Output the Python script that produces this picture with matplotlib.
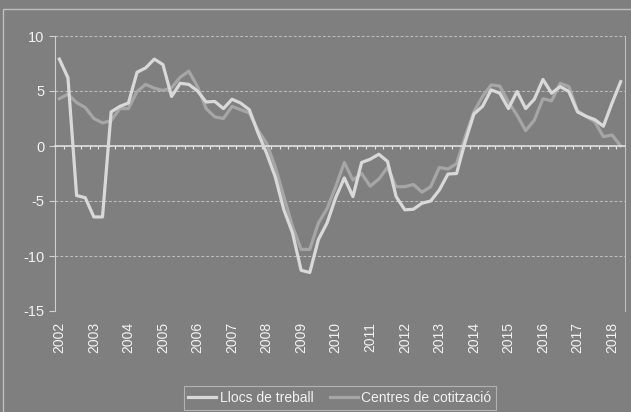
import numpy as np
import matplotlib
matplotlib.use("Agg")
import matplotlib.pyplot as plt
from matplotlib.patches import Rectangle

# quarterly series, 2002Q1 .. 2018Q2
years = [str(y) for y in range(2002, 2019)]
llocs = [7.9, 6.2, -4.5, -4.7, -6.45, -6.45, 3.1, 3.6, 3.9, 6.7,
         7.1, 7.9, 7.4, 4.5, 5.7, 5.6, 5.0, 4.0, 4.05, 3.4,
         4.25, 3.9, 3.3, 1.2, -0.65, -2.8, -5.8, -7.9, -11.3, -11.5,
         -8.5, -7.0, -4.7, -2.9, -4.6, -1.5, -1.2, -0.75, -1.4, -4.6,
         -5.8, -5.75, -5.2, -5.0, -4.0, -2.55, -2.5, 0.4, 2.9, 3.6,
         5.1, 4.8, 3.4, 4.95, 3.4, 4.25, 6.05, 4.8, 5.4, 4.95,
         3.1, 2.7, 2.4, 1.8, 3.9, 5.85]
centres = [4.3, 4.7, 3.95, 3.5, 2.5, 2.1, 2.3, 3.4, 3.4, 4.95,
           5.6, 5.25, 5.05, 5.3, 6.25, 6.8, 5.4, 3.4, 2.65, 2.5,
           3.6, 3.3, 3.0, 1.45, 0.25, -1.9, -4.6, -7.3, -9.4, -9.4,
           -7.0, -5.7, -3.7, -1.5, -3.1, -2.5, -3.65, -3.0, -1.95, -3.7,
           -3.7, -3.5, -4.2, -3.7, -1.95, -2.1, -1.6, 0.85, 3.1, 4.5,
           5.55, 5.45, 4.0, 2.8, 1.4, 2.35, 4.3, 4.1, 5.7, 5.4,
           3.2, 2.7, 2.2, 0.85, 1.0, 0.0]
labels = ["Llocs de treball", "Centres de cotització"]

bg = "#7f7f7f"
txt = "#f2f2f2"
plt.rcParams["font.family"] = ["Liberation Sans", "DejaVu Sans"]
plt.rcParams["font.size"] = 10
plt.rcParams["axes.unicode_minus"] = False

fig = plt.figure(figsize=(6.31, 4.12), dpi=100, facecolor=bg)
ax = fig.add_axes([55/631, 101/412, 570/631, 275/412], facecolor=bg)

x = np.arange(len(llocs))
ax.plot(x, llocs, color="#d9d9d9", lw=2.3, label=labels[0], zorder=3)
ax.plot(x, centres, color="#a6a6a6", lw=2.3, label=labels[1], zorder=2)

ax.set_xlim(-0.5, len(llocs) - 0.5)
ax.set_ylim(-15, 10)
ax.set_yticks([-15, -10, -5, 0, 5, 10])
ax.yaxis.grid(True, linestyle=(0, (3, 2)), color="#bfbfbf", lw=0.7)
ax.set_axisbelow(True)

ax.spines["top"].set_visible(False)
ax.spines["left"].set_color("#d0d0d0")
ax.spines["right"].set_color("#bfbfbf")
ax.spines["bottom"].set_position(("data", 0))
ax.spines["bottom"].set_color("#e6e6e6")
ax.spines["bottom"].set_linewidth(1.1)
ax.tick_params(axis="y", colors="#d0d0d0", labelcolor=txt, length=4, labelsize=10.5)

# category boundary ticks on the zero line
ax.set_xticks(np.arange(-0.5, len(llocs), 1))
ax.tick_params(axis="x", labelbottom=False, length=2.5, colors="#e6e6e6", width=0.8)

# year labels at bottom
sec = ax.secondary_xaxis(0)
sec.set_xticks(np.arange(0, len(llocs), 4))
sec.set_xticklabels(years, rotation=90, color=txt, fontsize=10)
sec.tick_params(length=0, pad=8)
sec.spines["bottom"].set_visible(False)

leg = ax.legend(loc="center", bbox_to_anchor=(340/631, 14/412), bbox_transform=fig.transFigure,
                ncol=2, frameon=True, fancybox=False, handlelength=2.0, handletextpad=0.25,
                columnspacing=1.2, borderpad=0.35, fontsize=10)
leg.get_frame().set_facecolor(bg)
leg.get_frame().set_edgecolor("#bfbfbf")
leg.get_frame().set_linewidth(0.8)
for t in leg.get_texts():
    t.set_color(txt)

fig.patches.append(Rectangle((3/631, -0.1), 1.0, (412-9)/412 + 0.1, transform=fig.transFigure,
                             fill=False, edgecolor="#bfbfbf", lw=1))

fig.savefig("out.png", dpi=100, facecolor=bg)
